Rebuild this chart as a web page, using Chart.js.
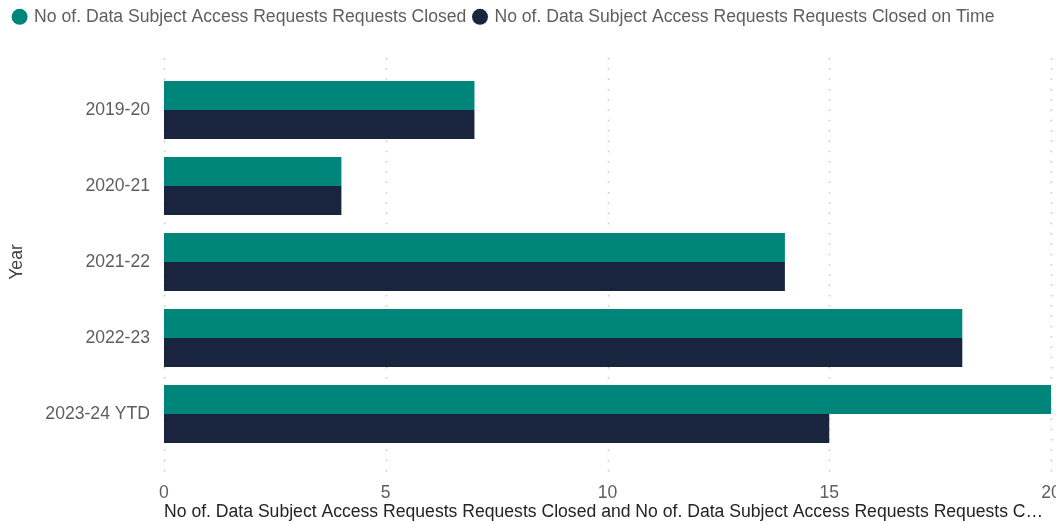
<!DOCTYPE html>
<html>
<head>
<meta charset="utf-8">
<script src="https://cdn.jsdelivr.net/npm/chart.js@4.4.1/dist/chart.umd.min.js"></script>
<style>
  html, body { margin: 0; padding: 0; background: #ffffff; }
  #wrap { width: 1056px; height: 522px; position: relative; }
</style>
</head>
<body>
<div id="wrap"><canvas id="c" width="1056" height="522"></canvas></div>
<script>
// ---- Data ----
const categories = ['2019-20', '2020-21', '2021-22', '2022-23', '2023-24 YTD'];
const closedValues = [7, 4, 14, 18, 20];
const closedOnTimeValues = [7, 4, 14, 18, 15];
const seriesNames = [
  'No of. Data Subject Access Requests Requests Closed',
  'No of. Data Subject Access Requests Requests Closed on Time'
];
const xTickValues = [0, 5, 10, 15, 20];
const xAxisTitle = 'No of. Data Subject Access Requests Requests Closed and No of. Data Subject Access Requests Requests C\u2026';
const yAxisTitle = 'Year';

// ---- Styles ----
const FONT = '"Liberation Sans", Arial, sans-serif';
const FS = 17.6;
const TEAL = '#00857a';
const NAVY = '#19243f';
const GRAY = '#605e5c';

const gridPlugin = {
  id: 'dottedGrid',
  beforeLayout(chart) {
    const lg = chart.legend;
    if (lg && !lg._patched) {
      const orig = lg.fit;
      lg.fit = function () { orig.call(this); this.height = 72; };
      lg._patched = true;
    }
  },
  beforeDatasetsDraw(chart) {
    const x = chart.scales.x;
    const a = chart.chartArea;
    const ctx = chart.ctx;
    ctx.save();
    ctx.strokeStyle = '#c8c6c4';
    ctx.lineWidth = 1.5;
    ctx.setLineDash([1.5, 8.8]);
    x.ticks.forEach(t => {
      const px = Math.round(x.getPixelForValue(t.value)) + 0.5;
      ctx.beginPath();
      ctx.moveTo(px, a.top - 14);
      ctx.lineTo(px, a.bottom + 24);
      ctx.stroke();
    });
    ctx.restore();
  }
};

new Chart(document.getElementById('c'), {
  type: 'bar',
  data: {
    labels: categories,
    datasets: [
      { label: seriesNames[0], data: closedValues, backgroundColor: TEAL, borderWidth: 0,
        categoryPercentage: 0.763, barPercentage: 1.0 },
      { label: seriesNames[1], data: closedOnTimeValues, backgroundColor: NAVY, borderWidth: 0,
        categoryPercentage: 0.763, barPercentage: 1.0 }
    ]
  },
  options: {
    indexAxis: 'y',
    responsive: false,
    animation: false,
    devicePixelRatio: 1,
    layout: { padding: { left: 6, right: 0, top: 0, bottom: 0 } },
    plugins: {
      legend: {
        position: 'top',
        align: 'start',
        labels: {
          usePointStyle: true,
          pointStyle: 'circle',
          boxWidth: 11.3,
          boxHeight: 11.3,
          padding: 8,
          color: GRAY,
          font: { family: FONT, size: FS }
        }
      },
      tooltip: { enabled: false }
    },
    scales: {
      x: {
        type: 'linear',
        position: 'bottom',
        min: 0,
        max: 20,
        afterBuildTicks(s) { s.ticks = xTickValues.map(v => ({ value: v })); },
        afterFit(s) { s.paddingRight = 5; s.height = 70; },
        grid: { display: false, drawTicks: false },
        border: { display: false },
        ticks: { color: GRAY, padding: 31, font: { family: FONT, size: FS } },
        title: {
          display: true,
          text: xAxisTitle,
          align: 'start',
          color: '#252423',
          padding: { top: 0, bottom: -1 },
          font: { family: FONT, size: FS }
        }
      },
      y: {
        type: 'category',
        afterFit(s) { s.width = 158; },
        grid: { display: false, drawTicks: false },
        border: { display: false },
        ticks: { color: GRAY, padding: 14, font: { family: FONT, size: FS } },
        title: {
          display: true,
          text: yAxisTitle,
          color: '#404040',
          padding: { top: 1, bottom: 0 },
          font: { family: FONT, size: FS }
        }
      }
    }
  },
  plugins: [gridPlugin]
});
</script>
</body>
</html>
